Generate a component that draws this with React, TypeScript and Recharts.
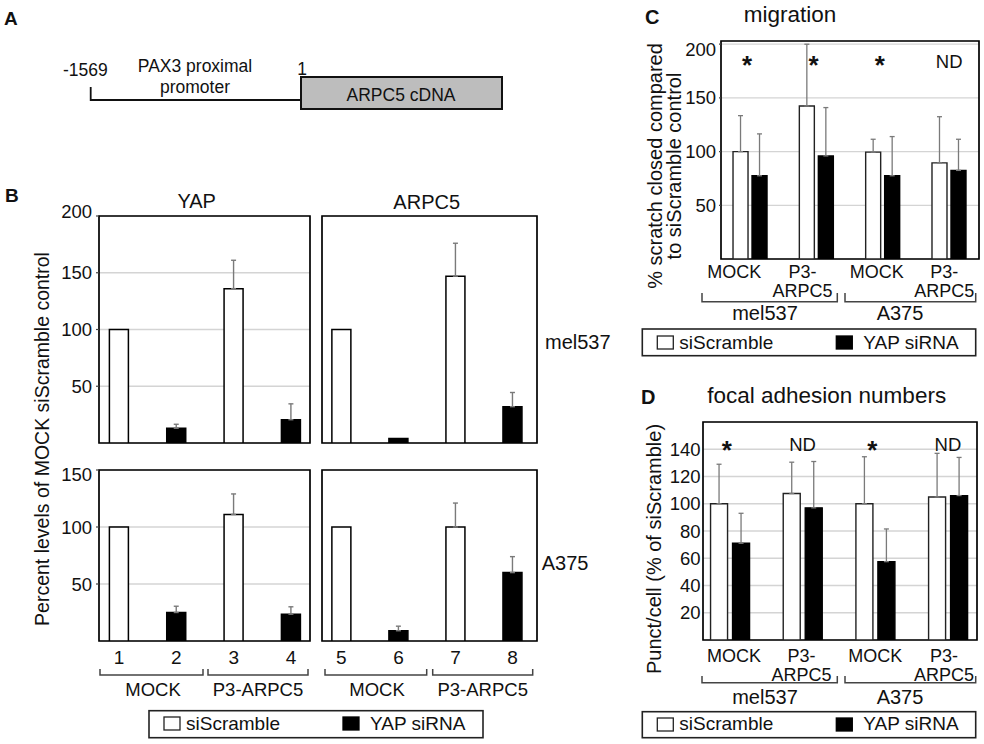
import React from 'react';
import { BarChart, Bar, XAxis, YAxis, CartesianGrid, ErrorBar, Cell, ReferenceArea } from 'recharts';

const FONT = '"Liberation Sans", Arial, Helvetica, sans-serif';
const GRID = '#d4d4d4';
const ERR = '#7a7a7a';

// ---------- Panel B data ----------
const lanePositions = [1, 2, 3, 4];
const laneNumbersLeft = ['1', '2', '3', '4'];
const laneNumbersRight = ['5', '6', '7', '8'];
const laneTreatment = ['siScramble', 'YAP siRNA', 'siScramble', 'YAP siRNA'];
const yapMel537 = [100, 13, 136, 20.5];
const yapMel537Err = [0, 3.5, 25, 14];
const arpc5Mel537 = [100, 4, 147, 32];
const arpc5Mel537Err = [0, 0, 29, 12.5];
const yapA375 = [100, 25, 111, 23.5];
const yapA375Err = [0, 5.5, 18, 6.5];
const arpc5A375 = [100, 9, 100, 60];
const arpc5A375Err = [0, 4, 21, 14];
const bTicksTop = [50, 100, 150, 200];
const bTicksBottom = [50, 100, 150];
const bGroupLabels = ['MOCK', 'P3-ARPC5'];

// ---------- Panels C / D data ----------
const groupPositions = [1, 2, 3, 4];
const groupLabels = [['MOCK'], ['P3-', 'ARPC5'], ['MOCK'], ['P3-', 'ARPC5']];
const cellLines = ['mel537', 'A375'];
const migrationScramble = [100, 142.5, 99.5, 89.5];
const migrationScrambleErr = [33.5, 57.5, 12, 43];
const migrationYap = [77.5, 96, 77.5, 82.5];
const migrationYapErr = [39, 45, 36.5, 29];
const migrationMarks = ['*', '*', '*', 'ND'];
const cTicks = [50, 100, 150, 200];

const focalScramble = [100, 107.5, 100, 105];
const focalScrambleErr = [29, 23, 34.5, 32];
const focalYap = [71, 97, 57.5, 106];
const focalYapErr = [22, 34, 24, 28];
const focalMarks = ['*', 'ND', '*', 'ND'];
const dTicks = [20, 40, 60, 80, 100, 120, 140];

const legendLabels = ['siScramble', 'YAP siRNA'];

const laneData = (vals: number[], errs: number[]) =>
  lanePositions.map((pos, i) => ({
    pos,
    value: vals[i],
    err: errs[i] > 0 ? [0, errs[i]] : undefined,
    treatment: laneTreatment[i],
  }));

const groupData = (scr: number[], scrErr: number[], yap: number[], yapErr: number[], marks: string[]) =>
  groupPositions.map((pos, i) => ({
    pos,
    scr: scr[i],
    scrErr: [0, scrErr[i]],
    yap: yap[i],
    yapErr: [0, yapErr[i]],
    mark: marks[i],
    label: groupLabels[i],
  }));

const ML = 70;
const MT = 22;
const MR = 12;
const MB = 70;

type Box = { x: number; y: number; w: number; h: number };

const YTick = (p: any) => {
  const { x, y, payload, topValue, topShift, fontSize } = p;
  const dy = payload.value === topValue ? topShift : 0;
  return (
    <text x={x} y={y + dy} dy="0.355em" textAnchor="end" fontSize={fontSize} fill="#111" fontFamily={FONT}>
      {payload.value}
    </text>
  );
};

function LanePanel(props: {
  box: Box;
  data: any[];
  xDomain: [number, number];
  yDomain: [number, number];
  yTicks: number[];
  showY: boolean;
  laneLabels?: string[];
  topShift: number;
}) {
  const { box, data, xDomain, yDomain, yTicks, showY, laneLabels, topShift } = props;
  const W = box.w + ML + MR;
  const H = box.h + MT + MB;
  return (
    <div style={{ position: 'absolute', left: box.x - ML, top: box.y - MT }}>
      <BarChart width={W} height={H} data={data} margin={{ top: MT, right: MR, bottom: 0, left: 0 }} barSize={19}>
        <CartesianGrid horizontal vertical={false} stroke={GRID} strokeWidth={1.3} />
        <XAxis
          type="number"
          dataKey="pos"
          domain={xDomain}
          ticks={lanePositions}
          allowDataOverflow
          interval={0}
          height={MB}
          axisLine={false}
          tickLine={false}
          tickSize={0}
          tickMargin={0}
          tick={
            laneLabels
              ? (p: any) => (
                  <text x={p.x} y={p.y + 23} textAnchor="middle" fontSize={19} fill="#111" fontFamily={FONT}>
                    {laneLabels[p.index]}
                  </text>
                )
              : false
          }
        />
        <YAxis
          type="number"
          domain={yDomain}
          ticks={yTicks}
          allowDataOverflow
          interval={0}
          width={ML}
          axisLine={false}
          tickLine={showY ? { stroke: '#444', strokeWidth: 1.2 } : false}
          tickSize={3}
          tickMargin={4}
          tick={
            showY
              ? (p: any) => <YTick {...p} topValue={yDomain[1]} topShift={topShift} fontSize={18.5} />
              : false
          }
        />
        <ReferenceArea
          x1={xDomain[0]}
          x2={xDomain[1]}
          y1={yDomain[0]}
          y2={yDomain[1]}
          fill="#ffffff"
          fillOpacity={0}
          stroke="#000"
          strokeWidth={1.7}
          ifOverflow="visible"
        />
        <Bar dataKey="value" stroke="#000" strokeWidth={1.5} isAnimationActive={false}>
          {data.map((d, i) => (
            <Cell key={i} fill={d.treatment === 'siScramble' ? '#ffffff' : '#000000'} />
          ))}
          <ErrorBar dataKey="err" direction="y" width={2.5} stroke={ERR} strokeWidth={1.4} isAnimationActive={false} />
        </Bar>
      </BarChart>
    </div>
  );
}

function GroupPanel(props: {
  box: Box;
  data: any[];
  xDomain: [number, number];
  yDomain: [number, number];
  yTicks: number[];
  barSize: number;
  barGap: number;
  tickSize: number;
  tickMargin: number;
  topShift: number;
  labelDx: number[];
  line1: number;
  line2: number;
  starY: number;
  ndY: number;
}) {
  const { box, data, xDomain, yDomain, yTicks, barSize, barGap, tickSize, tickMargin, topShift, labelDx, line1, line2, starY, ndY } = props;
  const W = box.w + ML + MR;
  const H = box.h + MT + MB;
  const GroupTick = (p: any) => {
    const d = data[p.index];
    if (!d) return <g />;
    const lx = p.x + labelDx[p.index];
    const top = p.y - box.h;
    return (
      <g fontFamily={FONT} fill="#111">
        <text x={lx} y={p.y + line1} textAnchor="middle" fontSize={18}>
          <tspan x={lx}>{d.label[0]}</tspan>
          {d.label.length > 1 ? (
            <tspan x={lx} dy={line2 - line1}>
              {d.label[1]}
            </tspan>
          ) : null}
        </text>
        {d.mark === '*' ? (
          <text x={p.x - 3} y={top + starY} textAnchor="middle" fontSize={26} fontWeight="bold">
            *
          </text>
        ) : (
          <text x={p.x} y={top + ndY} textAnchor="middle" fontSize={18.5}>
            {d.mark}
          </text>
        )}
      </g>
    );
  };
  return (
    <div style={{ position: 'absolute', left: box.x - ML, top: box.y - MT }}>
      <BarChart
        width={W}
        height={H}
        data={data}
        margin={{ top: MT, right: MR, bottom: 0, left: 0 }}
        barSize={barSize}
        barGap={barGap}
      >
        <CartesianGrid horizontal vertical={false} stroke={GRID} strokeWidth={1.3} />
        <XAxis
          type="number"
          dataKey="pos"
          domain={xDomain}
          ticks={groupPositions}
          allowDataOverflow
          interval={0}
          height={MB}
          axisLine={false}
          tickLine={false}
          tickSize={0}
          tickMargin={0}
          tick={(p: any) => <GroupTick {...p} />}
        />
        <YAxis
          type="number"
          domain={yDomain}
          ticks={yTicks}
          allowDataOverflow
          interval={0}
          width={ML}
          axisLine={false}
          tickLine={tickSize > 0 ? { stroke: '#444', strokeWidth: 1.2 } : false}
          tickSize={tickSize}
          tickMargin={tickMargin}
          tick={(p: any) => <YTick {...p} topValue={yTicks[yTicks.length - 1]} topShift={topShift} fontSize={18.5} />}
        />
        <ReferenceArea
          x1={xDomain[0]}
          x2={xDomain[1]}
          y1={yDomain[0]}
          y2={yDomain[1]}
          fill="#ffffff"
          fillOpacity={0}
          stroke="#000"
          strokeWidth={1.7}
          ifOverflow="visible"
        />
        <Bar dataKey="scr" fill="#ffffff" stroke="#222" strokeWidth={1.4} isAnimationActive={false}>
          <ErrorBar dataKey="scrErr" direction="y" width={2.5} stroke={ERR} strokeWidth={1.3} isAnimationActive={false} />
        </Bar>
        <Bar dataKey="yap" fill="#000000" stroke="#000" strokeWidth={1.4} isAnimationActive={false}>
          <ErrorBar dataKey="yapErr" direction="y" width={2.5} stroke={ERR} strokeWidth={1.3} isAnimationActive={false} />
        </Bar>
      </BarChart>
    </div>
  );
}

const Bracket = ({ x1, x2, top, bottom }: { x1: number; x2: number; top: number; bottom: number }) => (
  <path d={`M${x1} ${top} V${bottom} H${x2} V${top}`} fill="none" stroke="#444" strokeWidth={1.5} />
);

const Legend = ({ x, y, w, h, textY, sqY }: { x: number; y: number; w: number; h: number; textY: number; sqY: number }) => (
  <g>
    <rect x={x} y={y} width={w} height={h} fill="#fff" stroke="#222" strokeWidth={1.6} />
    <rect x={x + 15} y={sqY} width={16} height={13} fill="#fff" stroke="#222" strokeWidth={1.3} />
    <text x={x + 37} y={textY} fontSize={19}>
      {legendLabels[0]}
    </text>
    <rect x={x + 194} y={sqY} width={16} height={13} fill="#000" stroke="#000" strokeWidth={1.3} />
    <text x={x + 221} y={textY} fontSize={19}>
      {legendLabels[1]}
    </text>
  </g>
);

export default function App() {
  const bTL = laneData(yapMel537, yapMel537Err);
  const bTR = laneData(arpc5Mel537, arpc5Mel537Err);
  const bBL = laneData(yapA375, yapA375Err);
  const bBR = laneData(arpc5A375, arpc5A375Err);
  const cData = groupData(migrationScramble, migrationScrambleErr, migrationYap, migrationYapErr, migrationMarks);
  const dData = groupData(focalScramble, focalScrambleErr, focalYap, focalYapErr, focalMarks);

  return (
    <div
      style={{
        position: 'absolute',
        left: 0,
        top: 0,
        width: 984,
        height: 744,
        background: '#fff',
        fontFamily: FONT,
        overflow: 'hidden',
        color: '#111',
      }}
    >
      <LanePanel box={{ x: 99, y: 216, w: 211, h: 227 }} data={bTL} xDomain={[0.65, 4.33]} yDomain={[0, 200]} yTicks={bTicksTop} showY topShift={-5} />
      <LanePanel box={{ x: 322, y: 216, w: 215, h: 227 }} data={bTR} xDomain={[0.66, 4.43]} yDomain={[0, 200]} yTicks={bTicksTop} showY={false} topShift={0} />
      <LanePanel box={{ x: 99, y: 470, w: 211, h: 171 }} data={bBL} xDomain={[0.65, 4.33]} yDomain={[0, 150]} yTicks={bTicksBottom} showY laneLabels={laneNumbersLeft} topShift={4} />
      <LanePanel box={{ x: 322, y: 470, w: 215, h: 171 }} data={bBR} xDomain={[0.66, 4.43]} yDomain={[0, 150]} yTicks={bTicksBottom} showY={false} laneLabels={laneNumbersRight} topShift={0} />

      <GroupPanel
        box={{ x: 721, y: 41, w: 258, h: 218 }}
        data={cData}
        xDomain={[0.56, 4.45]}
        yDomain={[0, 203]}
        yTicks={cTicks}
        barSize={15}
        barGap={4}
        tickSize={2}
        tickMargin={3}
        topShift={5}
        labelDx={[-16, -14, -6, -5]}
        line1={19}
        line2={38}
        starY={33}
        ndY={27}
      />
      <GroupPanel
        box={{ x: 703, y: 422, w: 274, h: 218 }}
        data={dData}
        xDomain={[0.63, 4.4]}
        yDomain={[0, 160]}
        yTicks={dTicks}
        barSize={17}
        barGap={5}
        tickSize={0}
        tickMargin={2.5}
        topShift={0}
        labelDx={[4, -1, 0, -4]}
        line1={22}
        line2={41}
        starY={37}
        ndY={29}
      />

      <svg
        width={984}
        height={744}
        style={{ position: 'absolute', left: 0, top: 0, pointerEvents: 'none' }}
        fontFamily={FONT}
        fill="#111"
      >
        {/* Panel letters */}
        <text x={4} y={25} fontSize={19} fontWeight="bold">A</text>
        <text x={5} y={201.5} fontSize={19} fontWeight="bold">B</text>
        <text x={645} y={23.5} fontSize={20} fontWeight="bold">C</text>
        <text x={641} y={404} fontSize={20} fontWeight="bold">D</text>

        {/* Panel A diagram */}
        <text x={85.3} y={76} fontSize={17.5} textAnchor="middle">-1569</text>
        <text x={195} y={71.5} fontSize={17.5} textAnchor="middle">PAX3 proximal</text>
        <text x={195} y={92.5} fontSize={17.5} textAnchor="middle">promoter</text>
        <text x={302} y={75} fontSize={17.5} textAnchor="middle">1</text>
        <path d="M90.7 87 V100 H301" fill="none" stroke="#111" strokeWidth={1.8} />
        <rect x={301} y={77} width={201} height={32} fill="#bdbdbd" stroke="#111" strokeWidth={2} />
        <text x={401} y={101} fontSize={17.5} textAnchor="middle">ARPC5 cDNA</text>

        {/* Panel B annotations */}
        <text x={196.7} y={208.3} fontSize={20} textAnchor="middle">YAP</text>
        <text x={426.7} y={209} fontSize={20} textAnchor="middle">ARPC5</text>
        <text transform="translate(42,439) rotate(-90)" fontSize={19.5} textAnchor="middle" dominantBaseline="central">
          Percent levels of MOCK siScramble control
        </text>
        <text x={545} y={349} fontSize={20}>{cellLines[0]}</text>
        <text x={541.7} y={570} fontSize={20}>{cellLines[1]}</text>
        <Bracket x1={100} x2={203} top={669} bottom={675} />
        <Bracket x1={208} x2={308} top={669} bottom={675} />
        <Bracket x1={325} x2={426.7} top={669} bottom={675} />
        <Bracket x1={432.7} x2={532.7} top={669} bottom={675} />
        <text x={153} y={695.6} fontSize={18.5} textAnchor="middle">{bGroupLabels[0]}</text>
        <text x={258} y={695.6} fontSize={18.5} textAnchor="middle">{bGroupLabels[1]}</text>
        <text x={377} y={695.6} fontSize={18.5} textAnchor="middle">{bGroupLabels[0]}</text>
        <text x={482.7} y={695.6} fontSize={18.5} textAnchor="middle">{bGroupLabels[1]}</text>
        <Legend x={149} y={710.7} w={334} h={27} textY={730} sqY={717} />

        {/* Panel C annotations */}
        <text x={790} y={22} fontSize={22.5} textAnchor="middle">migration</text>
        <text transform="translate(655,166) rotate(-90)" fontSize={20} textAnchor="middle" dominantBaseline="central">
          % scratch closed compared
        </text>
        <text transform="translate(674,166) rotate(-90)" fontSize={20} textAnchor="middle" dominantBaseline="central">
          to siScramble control
        </text>
        <Bracket x1={702} x2={837.3} top={293} bottom={301.7} />
        <Bracket x1={845} x2={975.7} top={293} bottom={301.7} />
        <text x={765} y={319.5} fontSize={20} textAnchor="middle">{cellLines[0]}</text>
        <text x={900} y={319.5} fontSize={20} textAnchor="middle">{cellLines[1]}</text>
        <Legend x={642.3} y={329} w={333.4} h={26.7} textY={349} sqY={336} />

        {/* Panel D annotations */}
        <text x={826.7} y={403} fontSize={22.5} textAnchor="middle">focal adhesion numbers</text>
        <text transform="translate(654,549) rotate(-90)" fontSize={20} textAnchor="middle" dominantBaseline="central">
          Punct/cell (% of siScramble)
        </text>
        <Bracket x1={702} x2={837.3} top={676} bottom={682.7} />
        <Bracket x1={845} x2={975.7} top={676} bottom={682.7} />
        <text x={765} y={703.5} fontSize={20} textAnchor="middle">{cellLines[0]}</text>
        <text x={900} y={703.5} fontSize={20} textAnchor="middle">{cellLines[1]}</text>
        <Legend x={642.3} y={711.7} w={333.4} h={26} textY={730} sqY={718} />
      </svg>
    </div>
  );
}
